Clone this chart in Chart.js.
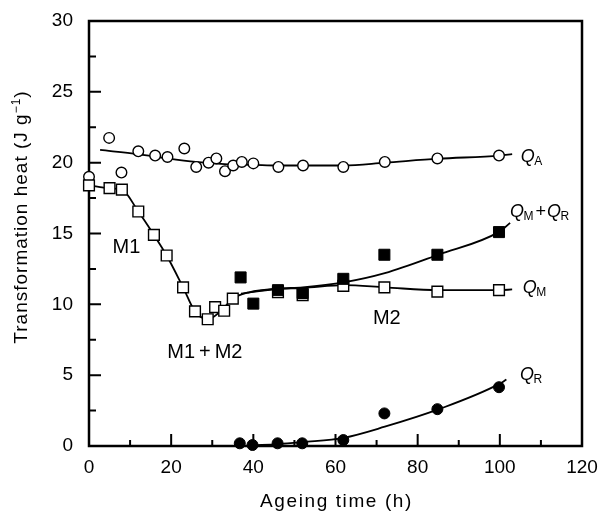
<!DOCTYPE html>
<html>
<head>
<meta charset="utf-8">
<script src="https://cdn.jsdelivr.net/npm/chart.js@4/dist/chart.umd.min.js"></script>
<style>
html,body{margin:0;padding:0;background:#fff;}
#c{display:block;}
</style>
</head>
<body>
<canvas id="c" width="600" height="515"></canvas>
<script>
// ---- data ----
const qaTime = [0, 4.9, 7.9, 12, 16.1, 19.1, 23.2, 26.1, 29.1, 31, 33.1, 35.1, 37.2, 40, 46.1, 52.1, 61.9, 72, 84.8, 99.8];
const qaHeat = [19.0, 21.75, 19.3, 20.8, 20.5, 20.4, 21.0, 19.7, 20.0, 20.3, 19.4, 19.8, 20.05, 19.95, 19.7, 19.8, 19.7, 20.05, 20.3, 20.5];
const qaFitTime = [2.7, 12, 19, 26, 33, 40, 46, 62, 72, 85, 100, 103];
const qaFitHeat = [20.9, 20.6, 20.3, 20.05, 19.9, 19.85, 19.8, 19.8, 20.0, 20.28, 20.5, 20.6];

const qmTime = [0, 5, 8, 12, 15.8, 18.9, 22.9, 25.8, 28.9, 30.7, 32.9, 35, 46, 52, 61.9, 71.9, 84.8, 99.8];
const qmHeat = [18.4, 18.2, 18.1, 16.55, 14.9, 13.45, 11.2, 9.5, 8.95, 9.8, 9.55, 10.4, 10.85, 10.65, 11.3, 11.2, 10.9, 11.0];
const qmFitTime = [0, 5, 8, 12, 15.8, 18.9, 22.9, 25.8, 28.9, 32, 35, 39, 46, 52, 62, 72, 85, 100, 103];
const qmFitHeat = [18.4, 18.2, 18.1, 16.55, 14.9, 13.45, 11.2, 9.5, 8.95, 9.5, 10.4, 10.85, 11.1, 11.15, 11.35, 11.2, 11.0, 11.0, 11.05];

const qmqrTime = [36.9, 40, 46, 52, 61.9, 71.9, 84.8, 99.8];
const qmqrHeat = [11.9, 10.05, 11.0, 10.8, 11.8, 13.5, 13.5, 15.1];
const qmqrFitTime = [37, 46, 52, 62, 72, 85, 100, 102.5];
const qmqrFitHeat = [10.75, 11.1, 11.2, 11.55, 12.2, 13.5, 15.15, 15.75];

const qrTime = [36.7, 39.8, 45.9, 51.9, 61.9, 71.9, 84.8, 99.8];
const qrHeat = [0.19, 0.07, 0.19, 0.19, 0.42, 2.3, 2.6, 4.15];
const qrFitTime = [40, 46, 52, 62, 72, 85, 100, 101.6];
const qrFitHeat = [0.05, 0.13, 0.28, 0.58, 1.36, 2.58, 4.4, 4.7];

const xMajorTicks = [0, 20, 40, 60, 80, 100, 120];
const xMinorTicks = [10, 30, 50, 70, 90, 110];
const yMajorTicks = [0, 5, 10, 15, 20, 25, 30];
const yMinorTicks = [2.5, 7.5, 12.5, 17.5, 22.5, 27.5];

const xTitle = 'Ageing time (h)';
const yTitleMain = 'Transformation heat (J g';
const yTitleSup = '\u22121';
const yTitleEnd = ')';

// ---- text annotations (data coordinates) ----
const regionLabels = [
  {text: 'M1', x: 9.1, y: 14.0},
  {text: 'M1\u2009+\u2009M2', x: 28.2, y: 6.6},
  {text: 'M2', x: 72.5, y: 9.0}
];
const curveLabels = [
  {x: 105.1, y: 20.05, parts: [['Q', 'i'], ['A', 's']]},
  {x: 102.5, y: 16.17, parts: [['Q', 'i'], ['M', 's'], ['+', 'n'], ['Q', 'i'], ['R', 's']]},
  {x: 105.6, y: 10.77, parts: [['Q', 'i'], ['M', 's']]},
  {x: 104.9, y: 4.65, parts: [['Q', 'i'], ['R', 's']]}
];

const FONT = "'Liberation Sans', Arial, Helvetica, sans-serif";
const pts = (xs, ys) => xs.map((x, i) => ({x: x, y: ys[i]}));

const decorPlugin = {
  id: 'decor',
  beforeDatasetsDraw(chart) {
    const {ctx, chartArea: a, scales: {x, y}} = chart;
    ctx.save();
    ctx.strokeStyle = '#000';
    ctx.lineWidth = 2.5;
    ctx.strokeRect(a.left, a.top, a.right - a.left, a.bottom - a.top);
    ctx.lineWidth = 2;
    ctx.beginPath();
    xMajorTicks.forEach(v => { const p = x.getPixelForValue(v); ctx.moveTo(p, a.bottom); ctx.lineTo(p, a.bottom - 12); });
    xMinorTicks.forEach(v => { const p = x.getPixelForValue(v); ctx.moveTo(p, a.bottom); ctx.lineTo(p, a.bottom - 6); });
    yMajorTicks.forEach(v => { const p = y.getPixelForValue(v); ctx.moveTo(a.left, p); ctx.lineTo(a.left + 12, p); });
    yMinorTicks.forEach(v => { const p = y.getPixelForValue(v); ctx.moveTo(a.left, p); ctx.lineTo(a.left + 7, p); });
    ctx.stroke();
    ctx.restore();
  },
  afterDraw(chart) {
    const {ctx, chartArea: a, scales: {x, y}} = chart;
    ctx.save();
    ctx.fillStyle = '#000';

    // x title
    ctx.letterSpacing = '1.6px';
    ctx.font = '19px ' + FONT;
    ctx.textAlign = 'center';
    ctx.textBaseline = 'alphabetic';
    ctx.fillText(xTitle, (a.left + a.right) / 2 + 1, 507);

    // y title (rotated) with superscript
    ctx.letterSpacing = '1px';
    ctx.textAlign = 'left';
    ctx.font = '19px ' + FONT;
    const w1 = ctx.measureText(yTitleMain).width;
    const w3 = ctx.measureText(yTitleEnd).width;
    ctx.font = '12px ' + FONT;
    const w2 = ctx.measureText(yTitleSup).width;
    const total = w1 + w2 + w3;
    ctx.save();
    ctx.translate(27, 217 + total / 2);
    ctx.rotate(-Math.PI / 2);
    ctx.font = '19px ' + FONT;
    ctx.fillText(yTitleMain, 0, 0);
    ctx.font = '12px ' + FONT;
    ctx.fillText(yTitleSup, w1, -7);
    ctx.font = '19px ' + FONT;
    ctx.fillText(yTitleEnd, w1 + w2, 0);
    ctx.restore();

    // region labels
    ctx.letterSpacing = '0px';
    ctx.font = '20px ' + FONT;
    ctx.textAlign = 'center';
    ctx.textBaseline = 'middle';
    regionLabels.forEach(l => ctx.fillText(l.text, x.getPixelForValue(l.x), y.getPixelForValue(l.y)));

    // curve labels Q_A etc.
    ctx.textAlign = 'left';
    ctx.textBaseline = 'alphabetic';
    curveLabels.forEach(l => {
      let px = x.getPixelForValue(l.x);
      const py = y.getPixelForValue(l.y);
      l.parts.forEach(([t, k]) => {
        if (k === 'i') {
          ctx.font = 'italic 18px ' + FONT;
          ctx.fillText(t, px, py);
          px += ctx.measureText(t).width - 0.5;
        } else if (k === 's') {
          ctx.font = '12px ' + FONT;
          ctx.fillText(t, px, py + 3);
          px += ctx.measureText(t).width;
        } else {
          px += 2;
          ctx.font = '18px ' + FONT;
          ctx.fillText(t, px, py);
          px += ctx.measureText(t).width + 1;
        }
      });
    });
    ctx.restore();
  }
};

const lineStyle = {showLine: true, pointRadius: 0, borderColor: '#000', borderWidth: 1.8, fill: false, cubicInterpolationMode: 'monotone', order: 5};

new Chart(document.getElementById('c'), {
  type: 'scatter',
  data: {
    datasets: [
      {label: 'QM+QR', data: pts(qmqrTime, qmqrHeat), pointStyle: 'rect', pointRadius: 7.8, backgroundColor: '#000', borderColor: '#000', borderWidth: 1, order: 1, clip: false},
      {label: 'QR', data: pts(qrTime, qrHeat), pointStyle: 'circle', pointRadius: 5.5, backgroundColor: '#000', borderColor: '#000', borderWidth: 1, order: 1, clip: false},
      {label: 'QM', data: pts(qmTime, qmHeat), pointStyle: 'rect', pointRadius: 7.6, backgroundColor: '#fff', borderColor: '#000', borderWidth: 1.4, order: 2, clip: false},
      {label: 'QA', data: pts(qaTime, qaHeat), pointStyle: 'circle', pointRadius: 5.3, backgroundColor: '#fff', borderColor: '#000', borderWidth: 1.4, order: 2, clip: false},
      Object.assign({label: 'QA fit', data: pts(qaFitTime, qaFitHeat)}, lineStyle),
      Object.assign({label: 'QM fit', data: pts(qmFitTime, qmFitHeat)}, lineStyle),
      Object.assign({label: 'QM+QR fit', data: pts(qmqrFitTime, qmqrFitHeat)}, lineStyle),
      Object.assign({label: 'QR fit', data: pts(qrFitTime, qrFitHeat)}, lineStyle)
    ]
  },
  options: {
    responsive: false,
    animation: false,
    devicePixelRatio: 1,
    layout: {padding: {top: 21, right: 18, left: 0, bottom: 0}, autoPadding: false},
    plugins: {legend: {display: false}, tooltip: {enabled: false}},
    scales: {
      x: {
        type: 'linear', min: 0, max: 120,
        ticks: {stepSize: 20, color: '#000', font: {family: FONT, size: 19}, padding: 10, maxRotation: 0},
        grid: {display: false, drawTicks: false},
        border: {display: false},
        afterFit(s) { s.height = 69; s.paddingLeft = 0; s.paddingRight = 0; }
      },
      y: {
        type: 'linear', min: 0, max: 30,
        ticks: {stepSize: 5, color: '#000', font: {family: FONT, size: 19}, padding: 16},
        grid: {display: false, drawTicks: false},
        border: {display: false},
        afterFit(s) { s.width = 89; s.paddingTop = 0; s.paddingBottom = 0; }
      }
    }
  },
  plugins: [decorPlugin]
});
</script>
</body>
</html>
